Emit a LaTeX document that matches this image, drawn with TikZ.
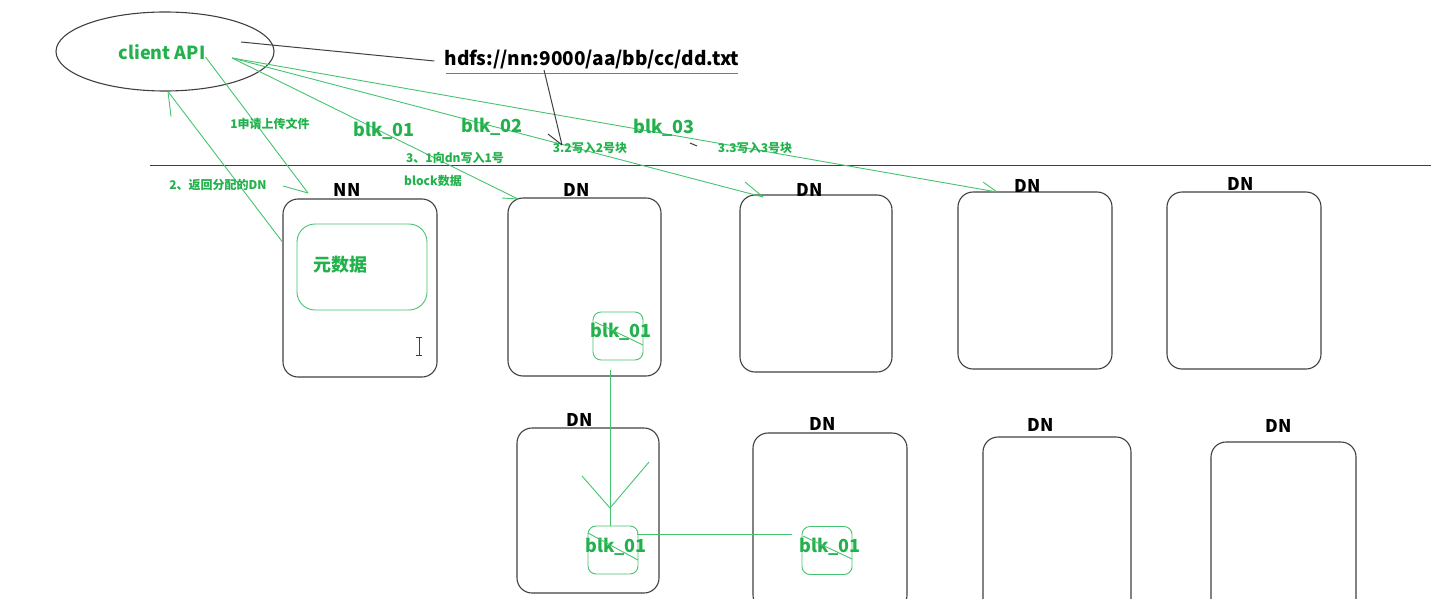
\documentclass[tikz,border=0pt]{standalone}
\usepackage{fontspec}
\setmainfont{Noto Sans CJK SC}
\usepackage{xcolor}
\usepackage{tikz}
\usetikzlibrary{shapes.geometric}
\definecolor{paintgreen}{RGB}{34,177,76}
\definecolor{linegreen}{RGB}{70,195,110}
\definecolor{boxgray}{RGB}{64,64,64}
\tikzstyle{host} = [rectangle, draw=boxgray, line width=1.1pt, rounded corners=15pt, inner sep=0pt, minimum width=153pt, minimum height=177pt]
\tikzstyle{blkbox} = [rectangle, draw=linegreen, line width=0.9pt, rounded corners=8pt, inner sep=0pt, minimum width=50pt, minimum height=48pt]
\tikzstyle{hostname} = [font=\fontsize{17.5}{18}\selectfont\bfseries, text=black, inner sep=0pt]
\tikzstyle{blktext} = [font=\fontsize{18}{20}\selectfont\bfseries, text=paintgreen, inner sep=0pt]
\tikzstyle{note} = [font=\fontsize{12}{14}\selectfont\bfseries, text=paintgreen, inner sep=0pt]
\tikzstyle{gline} = [draw=linegreen, line width=0.9pt]
\tikzstyle{kline} = [draw=boxgray, line width=1pt]

\begin{document}
\begin{tikzpicture}[x=1pt,y=-1pt]
\useasboundingbox (0,0) rectangle (1431,599);
\node [ellipse, draw=boxgray, line width=1.1pt, minimum width=218pt, minimum height=79pt, inner sep=0pt] (client) at (165,51.5) {};
\node [blktext] (api) at (162,52) {client API};
\node [hostname, font=\fontsize{19}{20}\selectfont\bfseries] (path) at (592,60) {hdfs://nn:9000/aa/bb/cc/dd.txt};
\path [draw=paintgreen, line width=0.9pt] (446,73) -- (738,73);
\path [kline] (150,165) -- (1431,165);
% hosts
\node [host, minimum width=154pt, minimum height=178pt] (nn) at (360,288) {};
\node [host, minimum height=178pt] (dnA) at (584.5,287) {};
\node [host, minimum width=152pt] (dnB) at (816,283.5) {};
\node [host, minimum width=154pt] (dnC) at (1035,280.5) {};
\node [host, minimum width=154pt] (dnD) at (1244,280.5) {};
\node [host, minimum width=142pt, minimum height=165pt] (dnE) at (588,510.5) {};
\node [host, minimum width=154pt] (dnF) at (830,521.5) {};
\node [host, minimum width=148pt] (dnG) at (1057,525.5) {};
\node [host, minimum width=145pt] (dnH) at (1283.5,530.5) {};
\node [hostname] (nnname) at (347,190) {NN};
\node [hostname] (dnAname) at (577,190) {DN};
\node [hostname] (dnBname) at (810,190) {DN};
\node [hostname] (dnCname) at (1028,186) {DN};
\node [hostname] (dnDname) at (1241,184) {DN};
\node [hostname] (dnEname) at (580,420) {DN};
\node [hostname] (dnFname) at (823,424) {DN};
\node [hostname] (dnGname) at (1041,425) {DN};
\node [hostname] (dnHname) at (1279,426) {DN};
% metadata
\node [rectangle, draw=linegreen, line width=0.9pt, rounded corners=18pt, minimum width=130pt, minimum height=86pt, inner sep=0pt] (meta) at (362,267) {};
\node [blktext] (metatext) at (340,265) {元数据};
\path [draw=boxgray, line width=0.9pt] (419,337) -- (419,355) (416,337) -- (422,337) (416,355) -- (422,355);
% blocks
\node [blkbox] (bA) at (618,336) {};
\node [blkbox] (bE) at (613,550) {};
\node [blkbox] (bF) at (827,550.5) {};
\node [blktext] at (621,332) {blk\_01};
\node [blktext] at (616,547) {blk\_01};
\node [blktext] at (830,547) {blk\_01};
\path [gline] (595,322) -- (643,345);
\path [gline] (588,533) -- (638,560);
\path [gline] (803,536) -- (852,559);
% client to namenode
\coordinate (reqend) at (308,193);
\path [gline] ([yshift=-5pt]api.east) -- (reqend);
\path [gline] (reqend) -- ++(-25,-7);
\path [gline] ([yshift=46pt]nn.west) -- ([xshift=3pt]client.south);
\path [gline] ([xshift=3pt]client.south) -- ++(3,25);
\node [note] at (270,124) {1申请上传文件};
\node [note] at (218,185) {2、返回分配的DN};
% client to datanodes
\coordinate (src) at (232,58);
\coordinate (wA) at (518,199);
\coordinate (wB) at (763,197);
\coordinate (wC) at (997,192);
\path [gline] (src) -- (wA);
\path [gline] (wA) -- ++(-16,-1);
\path [gline] (src) -- (wB);
\path [gline] (wB) -- ++(-18,-15);
\path [gline] (src) -- (wC);
\path [gline] (wC) -- ++(-14,-10);
\node [blktext] at (384,131) {blk\_01};
\node [blktext] at (492,127) {blk\_02};
\node [blktext] at (664,128) {blk\_03};
\node [note] at (455,158) {3、1向dn写入1号};
\node [note] at (433,181) {block数据};
\node [note] at (590,148) {3.2写入2号块};
\node [note] at (755,148) {3.3写入3号块};
% path line
\coordinate (ptip) at (562,145);
\path [kline] (path.west) ++(-10,1) -- (241,42);
\path [kline] (544,70) -- (ptip);
\path [kline] (ptip) -- ++(-14,-11);
\path [kline] (690,143) -- (697,146);
% pipeline
\coordinate (vtip) at (610,508);
\path [gline] (610,370) -- (610,526);
\path [gline] (582,476) -- (vtip) -- (649,462);
\path [gline] (637,534) -- (792,534);
\end{tikzpicture}
\end{document}
